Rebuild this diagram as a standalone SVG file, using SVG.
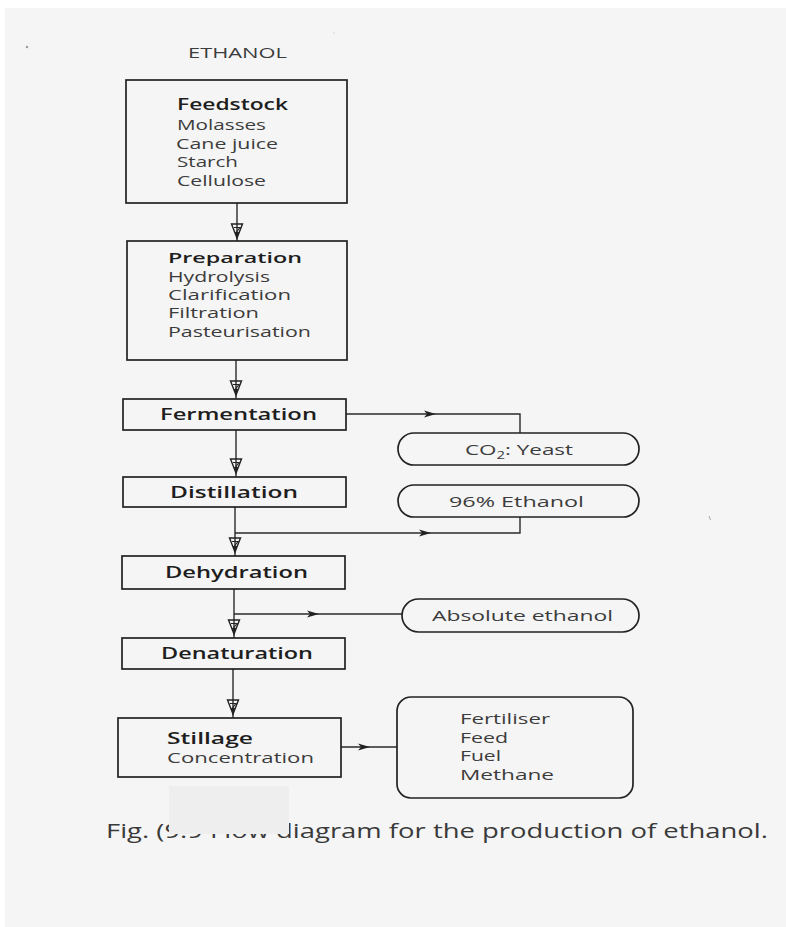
<svg xmlns="http://www.w3.org/2000/svg" xmlns:xlink="http://www.w3.org/1999/xlink" width="786" height="927" viewBox="0 0 786 927">
  <defs>
    <style>
      .box { fill: none; stroke: #222; stroke-width: 1.7; }
      .line { fill: none; stroke: #2a2a2a; stroke-width: 1.4; }
      .t { font-family: "Open Sans", "Noto Sans", "DejaVu Sans", sans-serif; fill: #3c3c3c; font-size: 14px; }
      .p { font-size: 15px; }
      .b { font-weight: 600; fill: #1e1e1e; font-size: 15.5px; }
      .cap { font-size: 20px; fill: #3a3a3a; }
    </style>
    <!-- open downward arrowhead used on the main flow line -->
    <g id="down">
      <path d="M-5.5,0 L5.5,0 L0,14 Z" fill="none" stroke="#222" stroke-width="1.4"/>
      <path d="M-3,3.5 L3,3.5 L-0.5,8" fill="none" stroke="#222" stroke-width="1.1"/>
      <path d="M-2.2,8 L2.2,8 L0,14 Z" fill="#222"/>
    </g>
    <!-- small barbed arrowhead pointing right -->
    <path id="right" d="M-6,-3.5 L6,0 L-6,3.5 L-3,0 Z" fill="#222"/>
  </defs>

  <!-- page -->
  <rect x="0" y="0" width="786" height="927" fill="#ffffff"/>
  <rect x="5" y="8" width="781" height="919" fill="#f5f5f5"/>
  <circle cx="27" cy="47" r="1.2" fill="#999"/>
  <circle cx="334" cy="33" r="1.2" fill="#e6e6e6"/>
  <path d="M709,516 l1.5,4" stroke="#aaa" stroke-width="1"/>

  <text class="t" x="188" y="58" textLength="99" lengthAdjust="spacingAndGlyphs">ETHANOL</text>

  <!-- connectors -->
  <g id="connectors">
    <path class="line" d="M237,203 L237,241"/>
    <use xlink:href="#down" x="237" y="224"/>
    <path class="line" d="M236,360 L236,399"/>
    <use xlink:href="#down" x="236" y="381"/>
    <path class="line" d="M236,430 L236,477"/>
    <use xlink:href="#down" x="236" y="459"/>
    <path class="line" d="M235,507 L235,556"/>
    <use xlink:href="#down" x="235" y="538"/>
    <path class="line" d="M234,589 L234,638"/>
    <use xlink:href="#down" x="234" y="620"/>
    <path class="line" d="M233,669 L233,718"/>
    <use xlink:href="#down" x="233" y="700"/>

    <!-- side branches -->
    <path class="line" d="M346,414 L520,414 L520,433"/>
    <use xlink:href="#right" x="430" y="414"/>
    <path class="line" d="M235,533 L520,533 L520,517"/>
    <use xlink:href="#right" x="425" y="533"/>
    <path class="line" d="M234,614 L402,614"/>
    <use xlink:href="#right" x="313" y="614"/>
    <path class="line" d="M341,747 L397,747"/>
    <use xlink:href="#right" x="364" y="747"/>
  </g>

  <g id="feedstock">
    <rect class="box" x="126" y="80" width="221" height="123"/>
    <text class="t b" x="177" y="110" textLength="111" lengthAdjust="spacingAndGlyphs">Feedstock</text>
    <text class="t" x="177" y="130" textLength="89" lengthAdjust="spacingAndGlyphs">Molasses</text>
    <text class="t" x="176" y="149" textLength="102" lengthAdjust="spacingAndGlyphs">Cane juice</text>
    <text class="t" x="177" y="167" textLength="61" lengthAdjust="spacingAndGlyphs">Starch</text>
    <text class="t" x="177" y="186" textLength="89" lengthAdjust="spacingAndGlyphs">Cellulose</text>
  </g>

  <g id="preparation">
    <rect class="box" x="127" y="241" width="220" height="119"/>
    <text class="t b" x="168" y="263" style="font-size:15px" textLength="134" lengthAdjust="spacingAndGlyphs">Preparation</text>
    <text class="t" x="168" y="282" textLength="102" lengthAdjust="spacingAndGlyphs">Hydrolysis</text>
    <text class="t" x="168" y="300" textLength="123" lengthAdjust="spacingAndGlyphs">Clarification</text>
    <text class="t" x="168" y="318" textLength="91" lengthAdjust="spacingAndGlyphs">Filtration</text>
    <text class="t" x="168" y="337" textLength="143" lengthAdjust="spacingAndGlyphs">Pasteurisation</text>
  </g>

  <g id="fermentation">
    <rect class="box" x="123" y="399" width="223" height="31"/>
    <text class="t b" x="160" y="420" textLength="157" lengthAdjust="spacingAndGlyphs">Fermentation</text>
  </g>

  <g id="co2-yeast">
    <rect class="box" x="398" y="433" width="241" height="32" rx="16"/>
    <text class="t p" x="465" y="455" textLength="108" lengthAdjust="spacingAndGlyphs">CO<tspan style="font-size:10px" dy="4">2</tspan><tspan dy="-4">: Yeast</tspan></text>
  </g>

  <g id="distillation">
    <rect class="box" x="123" y="477" width="223" height="30"/>
    <text class="t b" x="170" y="498" textLength="128" lengthAdjust="spacingAndGlyphs">Distillation</text>
  </g>

  <g id="ethanol-96">
    <rect class="box" x="398" y="485" width="241" height="32" rx="16"/>
    <text class="t p" x="449" y="507" textLength="135" lengthAdjust="spacingAndGlyphs">96% Ethanol</text>
  </g>

  <g id="dehydration">
    <rect class="box" x="122" y="556" width="223" height="33"/>
    <text class="t b" x="165" y="578" textLength="143" lengthAdjust="spacingAndGlyphs">Dehydration</text>
  </g>

  <g id="absolute-ethanol">
    <rect class="box" x="402" y="599" width="237" height="33" rx="16.5"/>
    <text class="t p" x="432" y="621" textLength="181" lengthAdjust="spacingAndGlyphs">Absolute ethanol</text>
  </g>

  <g id="denaturation">
    <rect class="box" x="122" y="638" width="223" height="31"/>
    <text class="t b" x="161" y="659" textLength="152" lengthAdjust="spacingAndGlyphs">Denaturation</text>
  </g>

  <g id="stillage">
    <rect class="box" x="118" y="718" width="223" height="59"/>
    <text class="t b" x="167" y="744" textLength="86" lengthAdjust="spacingAndGlyphs">Stillage</text>
    <text class="t" x="167" y="763" textLength="147" lengthAdjust="spacingAndGlyphs">Concentration</text>
  </g>

  <g id="by-products">
    <rect class="box" x="397" y="697" width="236" height="101" rx="14"/>
    <text class="t" x="460" y="724" textLength="90" lengthAdjust="spacingAndGlyphs">Fertiliser</text>
    <text class="t" x="460" y="743" textLength="48" lengthAdjust="spacingAndGlyphs">Feed</text>
    <text class="t" x="460" y="761" textLength="41" lengthAdjust="spacingAndGlyphs">Fuel</text>
    <text class="t" x="460" y="780" textLength="94" lengthAdjust="spacingAndGlyphs">Methane</text>
  </g>

  <!-- caption, partly covered by a paper patch -->
  <text class="t cap" x="106" y="838" textLength="662" lengthAdjust="spacingAndGlyphs">Fig. (9.9 Flow diagram for the production of ethanol.</text>
  <rect x="169" y="786" width="120" height="48" fill="#eeeeee"/>
</svg>
